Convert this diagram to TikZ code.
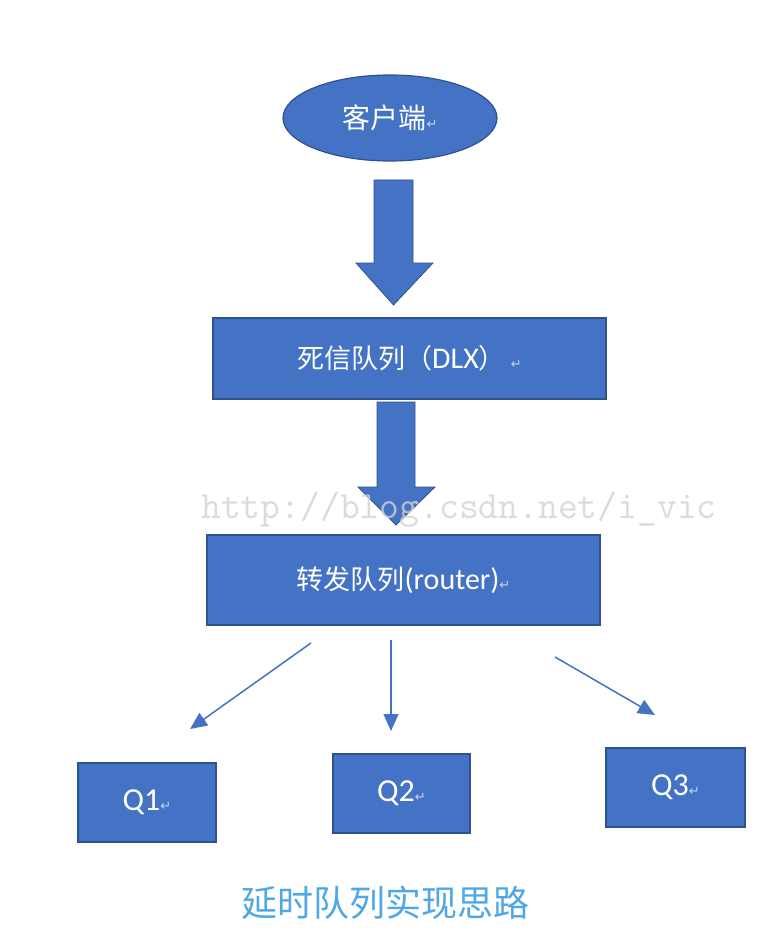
\documentclass[tikz,border=0pt]{standalone}
\usepackage{fontspec}
\setmainfont{Carlito}
\newfontfamily\cjk{Noto Sans CJK SC}
\newfontfamily\symf{DejaVu Sans}
\usetikzlibrary{shapes.geometric,arrows.meta}
\definecolor{fillblue}{HTML}{4472C4}
\definecolor{edgeblue}{HTML}{2F528F}
\definecolor{capblue}{HTML}{4FA8E6}
\newcommand\retmark{{\symf\fontsize{13}{13}\selectfont\color{white!70!fillblue}↵}}
\begin{document}
\begin{tikzpicture}[x=1pt,y=-1pt,
  qbox/.style={rectangle, draw=edgeblue, line width=1.2pt, fill=fillblue, text=white, inner sep=0pt, font=\fontsize{30}{30}\selectfont},
  blockarrow/.style={fill=fillblue, draw=edgeblue, line width=0.8pt},
  thinarrow/.style={draw=fillblue, line width=1.5pt, -{Triangle[length=17pt,width=15pt]}}]
\fill[white] (0,0) rectangle (782,936);
\useasboundingbox (0,0) rectangle (782,936);

% client
\node[ellipse, draw=edgeblue, line width=1.2pt, fill=fillblue, text=white, minimum width=214pt, minimum height=86pt, inner sep=0pt,
  font=\cjk\fontsize{28}{28}\selectfont] (client) at (390,118) {客户端\retmark};

% block arrow 1
\draw[blockarrow] (374,180) -- (413,180) -- (413,263) -- (433,263) -- (393.5,305) -- (356,263) -- (374,263) -- cycle;

% DLX
\node[qbox, minimum width=393pt, minimum height=81pt] (dlx) at (409.5,358.5) {{\cjk\fontsize{27}{27}\selectfont 死信队列（}DLX{\cjk\fontsize{27}{27}\selectfont ）}\,\retmark};

% block arrow 2
\draw[blockarrow] (377,402) -- (415,402) -- (415,487) -- (435,487) -- (396,525) -- (358,487) -- (377,487) -- cycle;

% router
\node[qbox, minimum width=393pt, minimum height=90pt] (router) at (403.5,580) {{\cjk\fontsize{27}{27}\selectfont 转发队列}(router)\retmark};

% queues
\node[qbox, minimum width=138pt, minimum height=79pt, font=\fontsize{32}{32}\selectfont] (q1) at (147,802.5) {Q1\retmark};
\node[qbox, minimum width=137pt, minimum height=79pt, font=\fontsize{32}{32}\selectfont] (q2) at (401.5,793.5) {Q2\retmark};
\node[qbox, minimum width=139pt, minimum height=79pt, font=\fontsize{32}{32}\selectfont] (q3) at (675.5,787.5) {Q3\retmark};

% thin arrows
\coordinate (s1) at (311,643); \coordinate (e1) at (190,729);
\coordinate (s2) at (391,640); \coordinate (e2) at (391,731);
\coordinate (s3) at (555,657); \coordinate (e3) at (655,715);
\draw[thinarrow] (s1) -- (e1);
\draw[thinarrow] (s2) -- (e2);
\draw[thinarrow] (s3) -- (e3);

% watermark
\node[text=gray!35, opacity=0.8, font=\ttfamily\fontsize{38.5}{38.5}\selectfont, inner sep=0pt] (wm) at (459,510) {http://blog.csdn.net/i\_vic};

% caption
\node[text=capblue, font=\cjk\fontsize{36}{36}\selectfont, inner sep=0pt] (cap) at (385,903) {延时队列实现思路};
\end{tikzpicture}
\end{document}
